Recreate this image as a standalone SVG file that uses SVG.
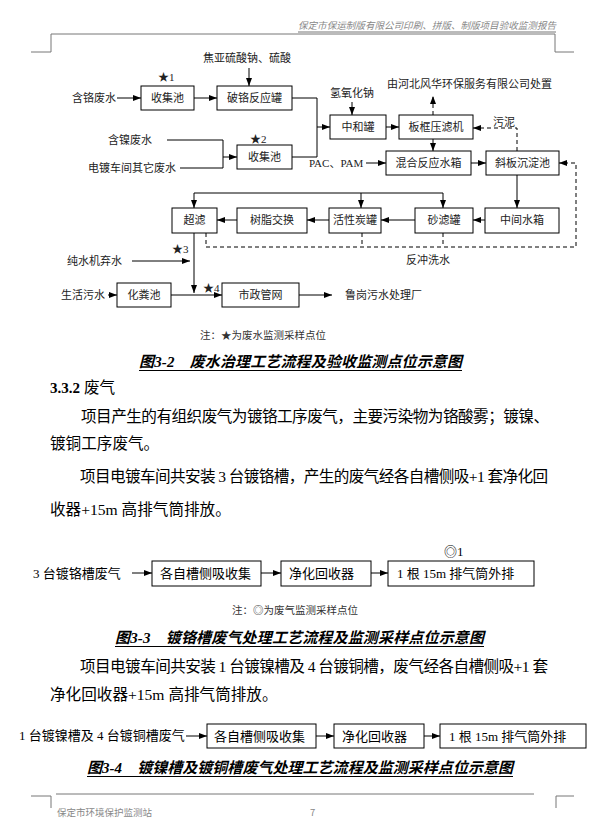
<svg xmlns="http://www.w3.org/2000/svg" width="598" height="831" viewBox="0 0 598 831">
<defs>
<marker id="ah" viewBox="0 0 8 6" refX="8" refY="3" markerWidth="8" markerHeight="6" orient="auto" markerUnits="userSpaceOnUse"><path d="M0,0 L8,3 L0,6 z" fill="#000"/></marker>
<style>
.bx{fill:#fff;stroke:#000;stroke-width:1}
.ln{fill:none;stroke:#000;stroke-width:1}
.ar{fill:none;stroke:#000;stroke-width:1;marker-end:url(#ah)}
.ds{fill:none;stroke:#000;stroke-width:1;stroke-dasharray:4,3}
.dsa{fill:none;stroke:#000;stroke-width:1;stroke-dasharray:4,3;marker-end:url(#ah)}
.t{font-family:"Liberation Serif","Noto Sans CJK SC",sans-serif;font-size:11px;fill:#222}
.t2{font-family:"Liberation Serif","Noto Sans CJK SC",sans-serif;font-size:13px;fill:#000}
.body{font-family:"Liberation Serif","Noto Sans CJK SC",sans-serif;font-size:15.6px;fill:#000}
.cap{font-family:"Liberation Serif","Noto Sans CJK SC",sans-serif;font-size:15px;font-weight:bold;font-style:italic;fill:#000}
.note{font-family:"Noto Sans CJK SC",sans-serif;font-size:10.5px;fill:#333}
.hf{font-family:"Noto Sans CJK SC",sans-serif;font-size:9.5px;fill:#888}
.gl{fill:none;stroke:#777;stroke-width:1}
</style>
</defs>
<rect width="598" height="831" fill="#fff"/>

<!-- header / footer -->
<g id="header">
<text class="hf" x="298" y="29" font-style="italic" textLength="258" lengthAdjust="spacingAndGlyphs">保定市保运制版有限公司印刷、拼版、制版项目验收监测报告</text>
<line class="gl" x1="298" y1="32" x2="556" y2="32"/>
<path class="gl" d="M31,52 H51 V34 H555 V52 H574"/>
</g>
<g id="footer">
<path class="gl" d="M56,794 H534"/>
<path class="gl" d="M31,796 H51 V808"/>
<path class="gl" d="M574,796 H556 V808"/>
<text class="hf" x="57" y="816">保定市环境保护监测站</text>
<text class="hf" x="310" y="816">7</text>
</g>

<!-- Figure 3-2 connectors -->
<g id="connectors-32">
<line class="ar" x1="249" y1="68" x2="249" y2="86"/>
<line class="ar" x1="117" y1="98" x2="141" y2="98"/>
<line class="ar" x1="194" y1="98" x2="217" y2="98"/>
<path class="ar" d="M292,98 H317 V127 H330"/>
<path class="ln" d="M292,157 H317 V127"/>
<line class="ar" x1="352" y1="102" x2="352" y2="115"/>
<line class="ar" x1="386" y1="127" x2="399" y2="127"/>
<line class="dsa" x1="433" y1="115" x2="433" y2="96"/>
<line class="ar" x1="433" y1="139" x2="433" y2="151"/>
<line class="ar" x1="366" y1="163" x2="386" y2="163"/>
<line class="ar" x1="471" y1="163" x2="486" y2="163"/>
<path class="dsa" d="M517,151 V128 H473"/>
<path class="dsa" d="M206,233 V247 H576 V163 H559"/>
<line class="ds" x1="362" y1="233" x2="362" y2="247"/>
<line class="ds" x1="443" y1="233" x2="443" y2="247"/>
<path class="ln" d="M167,140 H223 V168 H180"/>
<line class="ar" x1="223" y1="157" x2="237" y2="157"/>
<line class="ar" x1="517" y1="175" x2="517" y2="208"/>
<line class="ar" x1="485" y1="220" x2="473" y2="220"/>
<line class="ar" x1="415" y1="220" x2="381" y2="220"/>
<line class="ar" x1="329" y1="220" x2="307" y2="220"/>
<line class="ar" x1="237" y1="220" x2="217" y2="220"/>
<path class="ar" d="M443,193 H194 V208"/>
<line class="ar" x1="443" y1="193" x2="443" y2="208"/>
<line class="ar" x1="361" y1="193" x2="361" y2="208"/>
<line class="ar" x1="194" y1="233" x2="194" y2="293"/>
<line class="ar" x1="132" y1="261" x2="190" y2="261"/>
<line class="ar" x1="108" y1="295" x2="117" y2="295"/>
<line class="ar" x1="171" y1="295" x2="222" y2="295"/>
<line class="ar" x1="299" y1="295" x2="332" y2="295"/>
</g>

<!-- Figure 3-2 labels -->
<g id="labels-32">
<text class="t" x="247" y="62" text-anchor="middle">焦亚硫酸钠、硫酸</text>
<text class="t" x="158" y="81">★1</text>
<text class="t" x="72" y="102">含铬废水</text>
<text class="t" x="352" y="97" text-anchor="middle">氢氧化钠</text>
<text class="t" x="387" y="88">由河北风华环保服务有限公司处置</text>
<text class="t" x="493" y="126">污泥</text>
<text class="t" x="108" y="144">含镍废水</text>
<text class="t" x="88" y="172">电镀车间其它废水</text>
<text class="t" x="250" y="143">★2</text>
<text class="t" x="309" y="167">PAC、PAM</text>
<text class="t" x="406" y="264">反冲洗水</text>
<text class="t" x="172" y="253">★3</text>
<text class="t" x="67" y="265">纯水机弃水</text>
<text class="t" x="61" y="299">生活污水</text>
<text class="t" x="203" y="292">★4</text>
<text class="t" x="345" y="299">鲁岗污水处理厂</text>
</g>

<!-- Figure 3-2 nodes -->
<g id="n-collect1"><rect class="bx" x="141" y="86" width="53" height="24"/><text class="t" x="167.5" y="102" text-anchor="middle">收集池</text></g>
<g id="n-pogelu"><rect class="bx" x="217" y="86" width="75" height="24"/><text class="t" x="254.5" y="102" text-anchor="middle">破铬反应罐</text></g>
<g id="n-zhonghe"><rect class="bx" x="330" y="115" width="56" height="24"/><text class="t" x="358" y="131" text-anchor="middle">中和罐</text></g>
<g id="n-bankuang"><rect class="bx" x="399" y="115" width="74" height="24"/><text class="t" x="436" y="131" text-anchor="middle">板框压滤机</text></g>
<g id="n-collect2"><rect class="bx" x="237" y="145" width="55" height="24"/><text class="t" x="264.5" y="161" text-anchor="middle">收集池</text></g>
<g id="n-hunhe"><rect class="bx" x="386" y="151" width="85" height="24"/><text class="t" x="428.5" y="167" text-anchor="middle">混合反应水箱</text></g>
<g id="n-xieban"><rect class="bx" x="486" y="151" width="73" height="24"/><text class="t" x="522.5" y="167" text-anchor="middle">斜板沉淀池</text></g>
<g id="n-zhongjian"><rect class="bx" x="485" y="208" width="74" height="25"/><text class="t" x="522" y="224" text-anchor="middle">中间水箱</text></g>
<g id="n-shalv"><rect class="bx" x="415" y="208" width="58" height="25"/><text class="t" x="444" y="224" text-anchor="middle">砂滤罐</text></g>
<g id="n-huoxingtan"><rect class="bx" x="329" y="208" width="52" height="25"/><text class="t" x="355" y="224" text-anchor="middle">活性炭罐</text></g>
<g id="n-shuzhi"><rect class="bx" x="237" y="208" width="70" height="25"/><text class="t" x="272" y="224" text-anchor="middle">树脂交换</text></g>
<g id="n-chaolv"><rect class="bx" x="172" y="208" width="45" height="25"/><text class="t" x="194.5" y="224" text-anchor="middle">超滤</text></g>
<g id="n-huafen"><rect class="bx" x="117" y="283" width="54" height="24"/><text class="t" x="144" y="299" text-anchor="middle">化粪池</text></g>
<g id="n-shizheng"><rect class="bx" x="222" y="283" width="77" height="24"/><text class="t" x="260.5" y="299" text-anchor="middle">市政管网</text></g>

<text class="note" x="200" y="339">注：★为废水监测采样点位</text>
<text class="cap" x="139" y="367" textLength="323" lengthAdjust="spacing">图3-2　废水治理工艺流程及验收监测点位示意图</text>
<line x1="139" y1="370.5" x2="462" y2="370.5" stroke="#000" stroke-width="1"/>

<!-- body text -->
<text class="body" x="50" y="393"><tspan font-weight="bold" font-size="15px">3.3.2</tspan> 废气</text>
<text class="body" x="81" y="422" textLength="468" lengthAdjust="spacing">项目产生的有组织废气为镀铬工序废气，主要污染物为铬酸雾；镀镍、</text>
<text class="body" x="50" y="449">镀铜工序废气。</text>
<text class="body" x="80" y="482" textLength="468" lengthAdjust="spacing">项目电镀车间共安装 3 台镀铬槽，产生的废气经各自槽侧吸+1 套净化回</text>
<text class="body" x="50" y="515">收器+15m 高排气筒排放。</text>

<!-- Figure 3-3 -->
<g id="connectors-33">
<line class="ar" x1="132" y1="573" x2="152" y2="573"/>
<line class="ar" x1="261" y1="573" x2="281" y2="573"/>
<line class="ar" x1="371" y1="573" x2="388" y2="573"/>
</g>
<text class="t2" x="33" y="578">3 台镀铬槽废气</text>
<g id="n33-collect"><rect class="bx" x="152" y="561" width="109" height="25"/><text class="t2" x="160" y="578">各自槽侧吸收集</text></g>
<g id="n33-recover"><rect class="bx" x="281" y="561" width="90" height="25"/><text class="t2" x="289" y="578">净化回收器</text></g>
<g id="n33-stack"><rect class="bx" x="388" y="561" width="146" height="25"/><text class="t2" x="397" y="578">1 根 15m 排气筒外排</text></g>
<text class="t2" x="444" y="556">◎1</text>
<text class="note" x="232" y="614">注：◎为废气监测采样点位</text>
<text class="cap" x="115" y="643" textLength="369" lengthAdjust="spacing">图3-3　镀铬槽废气处理工艺流程及监测采样点位示意图</text>
<line x1="115" y1="646.5" x2="484" y2="646.5" stroke="#000" stroke-width="1"/>

<text class="body" x="80" y="672" textLength="468" lengthAdjust="spacing">项目电镀车间共安装 1 台镀镍槽及 4 台镀铜槽，废气经各自槽侧吸+1 套</text>
<text class="body" x="50" y="700">净化回收器+15m 高排气筒排放。</text>

<!-- Figure 3-4 -->
<g id="connectors-34">
<line class="ar" x1="186" y1="736" x2="207" y2="736"/>
<line class="ar" x1="316" y1="736" x2="334" y2="736"/>
<line class="ar" x1="424" y1="736" x2="440" y2="736"/>
</g>
<text class="t2" x="19" y="740">1 台镀镍槽及 4 台镀铜槽废气</text>
<g id="n34-collect"><rect class="bx" x="207" y="724" width="109" height="24"/><text class="t2" x="214" y="741">各自槽侧吸收集</text></g>
<g id="n34-recover"><rect class="bx" x="334" y="724" width="90" height="24"/><text class="t2" x="342" y="741">净化回收器</text></g>
<g id="n34-stack"><rect class="bx" x="440" y="724" width="146" height="24"/><text class="t2" x="449" y="741">1 根 15m 排气筒外排</text></g>
<text class="cap" x="87" y="773" textLength="426" lengthAdjust="spacing">图3-4　镀镍槽及镀铜槽废气处理工艺流程及监测采样点位示意图</text>
<line x1="87" y1="776.5" x2="513" y2="776.5" stroke="#000" stroke-width="1"/>
</svg>
